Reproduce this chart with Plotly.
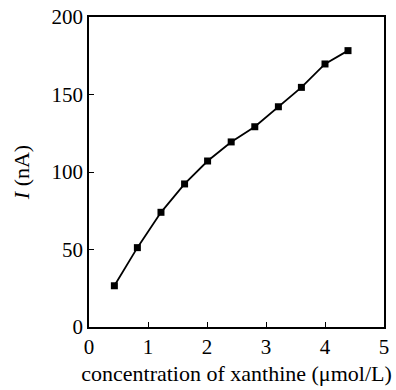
import plotly.graph_objects as go

conc = [0.43, 0.82, 1.22, 1.62, 2.01, 2.41, 2.81, 3.21, 3.60, 4.00, 4.39]
current = [26.6, 51.2, 74.0, 92.3, 107.1, 119.4, 129.2, 142.1, 154.6, 169.7, 178.3]
x_ticks = [0, 1, 2, 3, 4, 5]
y_ticks = [0, 50, 100, 150, 200]

fig = go.Figure()
fig.add_trace(go.Scatter(
    x=conc, y=current, mode="lines+markers",
    line=dict(color="black", width=1.8),
    marker=dict(symbol="square", size=7, color="black"),
    cliponaxis=False,
))

font = dict(family="Liberation Serif, Times New Roman, serif", color="black", size=21)

fig.update_layout(
    width=396, height=390,
    margin=dict(l=89, r=12, t=17, b=63),
    paper_bgcolor="white", plot_bgcolor="white",
    showlegend=False,
    font=font,
    xaxis=dict(
        range=[0, 5], tickvals=x_ticks, ticks="inside", ticklen=5,
        tickcolor="black", showline=True, linecolor="black", linewidth=1.6,
        mirror=True, showgrid=False, zeroline=False, automargin=False,
        tickfont=dict(size=21),
        title=dict(text="concentration of xanthine (μmol/L)", font=dict(size=22), standoff=8),
    ),
    yaxis=dict(
        range=[0, 200], tickvals=y_ticks, ticks="inside", ticklen=5,
        tickcolor="black", showline=True, linecolor="black", linewidth=1.6,
        mirror=True, showgrid=False, zeroline=False, automargin=False,
        tickfont=dict(size=21),
        title=dict(text="<i>I</i> (nA)", font=dict(size=22), standoff=16),
    ),
)

fig.write_html("out.html")
